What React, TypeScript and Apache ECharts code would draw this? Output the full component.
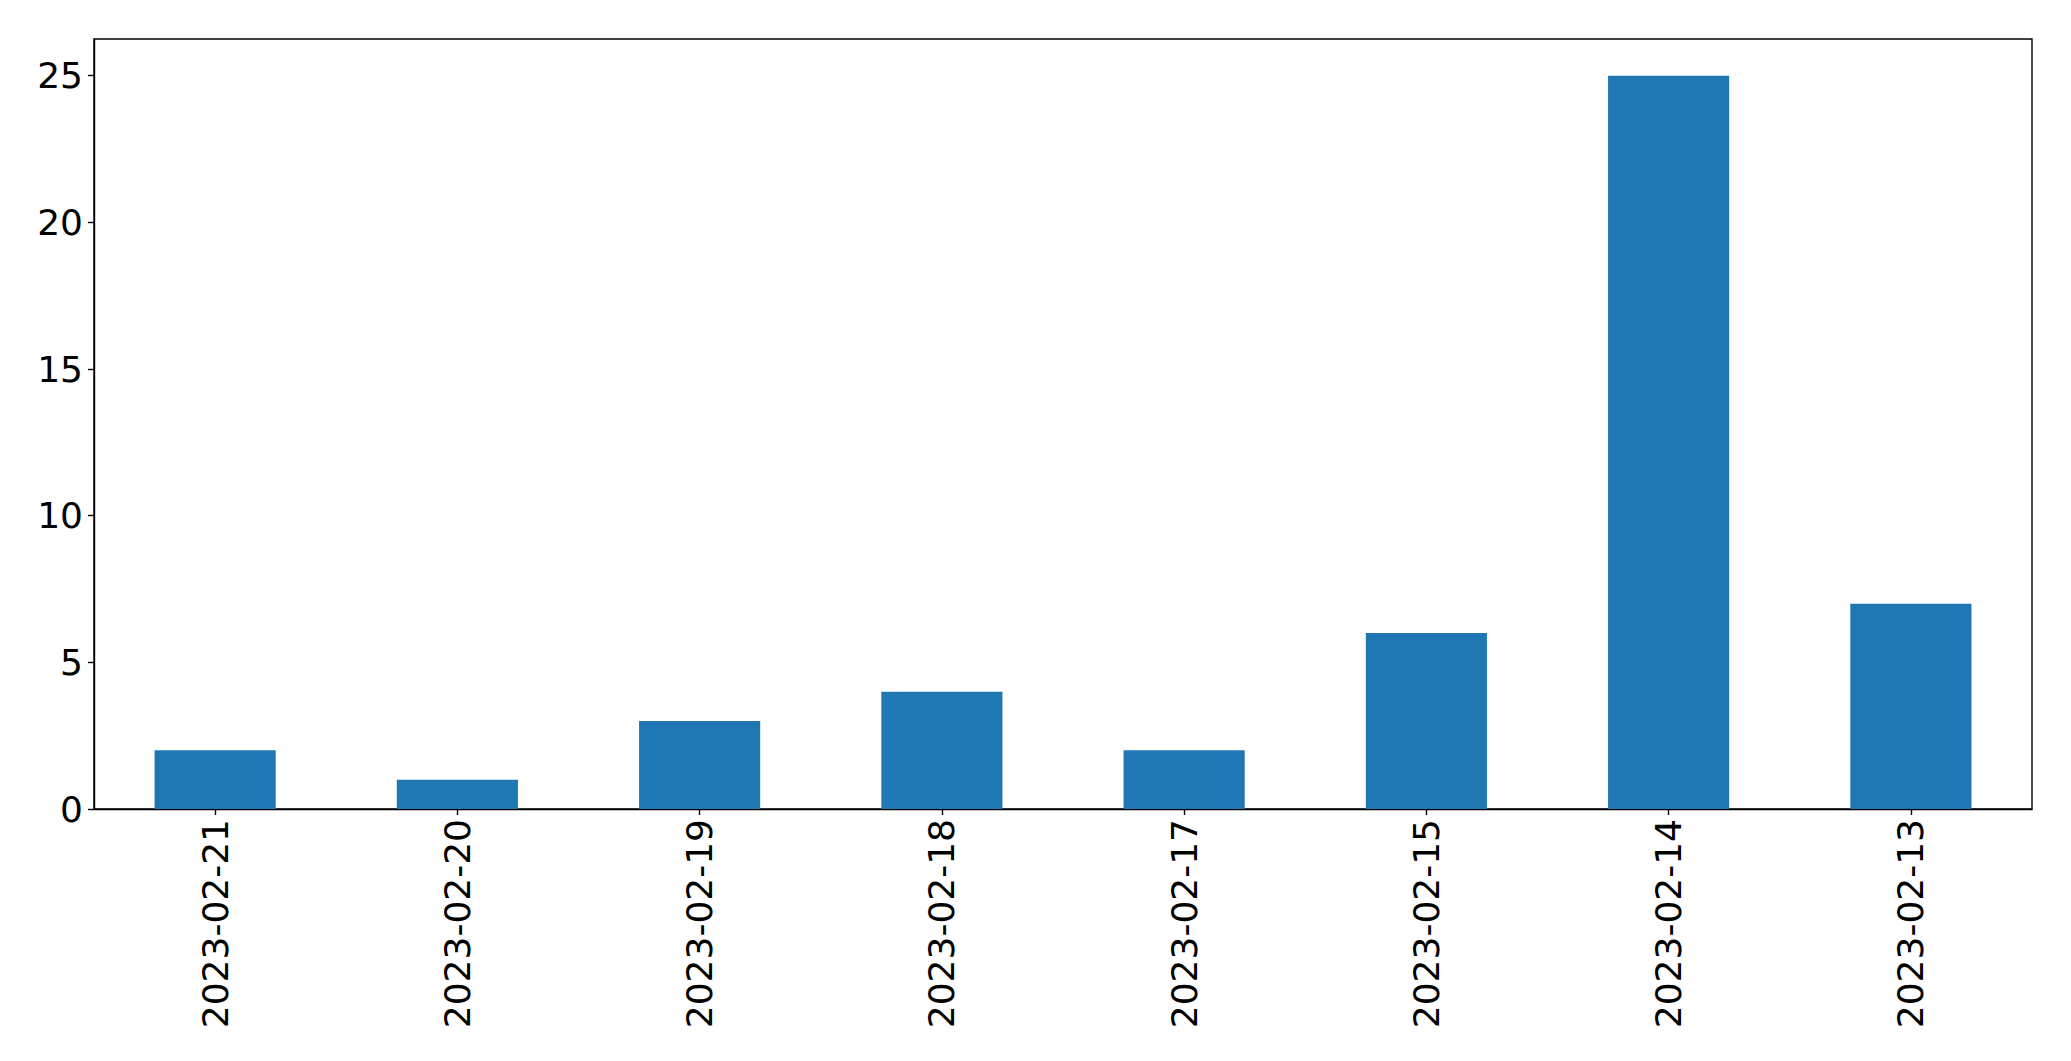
import React, { useEffect, useRef } from "react";
import * as echarts from "echarts";

const categories = [
  "2023-02-21",
  "2023-02-20",
  "2023-02-19",
  "2023-02-18",
  "2023-02-17",
  "2023-02-15",
  "2023-02-14",
  "2023-02-13",
];
const counts = [2, 1, 3, 4, 2, 6, 25, 7];
const yTicks = [0, 5, 10, 15, 20, 25];
const yMax = 26.25;

export default function App() {
  const ref = useRef<HTMLDivElement>(null);
  useEffect(() => {
    if (!ref.current) return;
    const chart = echarts.init(ref.current, null, { renderer: "svg" });
    const font = "DejaVu Sans";
    chart.setOption({
      animation: false,
      backgroundColor: "#ffffff",
      grid: {
        left: 94,
        top: 39,
        right: 39,
        bottom: 252,
        show: true,
        borderColor: "#000000",
        borderWidth: 1.4,
        backgroundColor: "transparent",
      },
      xAxis: {
        type: "category",
        data: categories,
        boundaryGap: true,
        axisLine: { show: true, lineStyle: { color: "#000", width: 1.4 } },
        axisTick: {
          show: true,
          alignWithLabel: true,
          length: 6,
          lineStyle: { color: "#000", width: 1.4 },
        },
        axisLabel: {
          rotate: 90,
          margin: 10,
          color: "#000",
          fontFamily: font,
          fontSize: 36,
          interval: 0,
        },
        splitLine: { show: false },
      },
      yAxis: {
        type: "value",
        min: 0,
        max: yMax,
        interval: 5,
        axisLine: { show: true, lineStyle: { color: "#000", width: 1.4 } },
        axisTick: {
          show: true,
          length: 6,
          customValues: yTicks,
          lineStyle: { color: "#000", width: 1.4 },
        },
        axisLabel: {
          margin: 11,
          color: "#000",
          fontFamily: font,
          fontSize: 36,
          customValues: yTicks,
        },
        splitLine: { show: false },
      },
      series: [
        {
          type: "bar",
          data: counts,
          barWidth: "50%",
          itemStyle: { color: "#1f77b4" },
        },
      ],
    });
    return () => chart.dispose();
  }, []);
  return (
    <div
      ref={ref}
      style={{ position: "absolute", left: 0, top: 0, width: 2071, height: 1061 }}
    />
  );
}
